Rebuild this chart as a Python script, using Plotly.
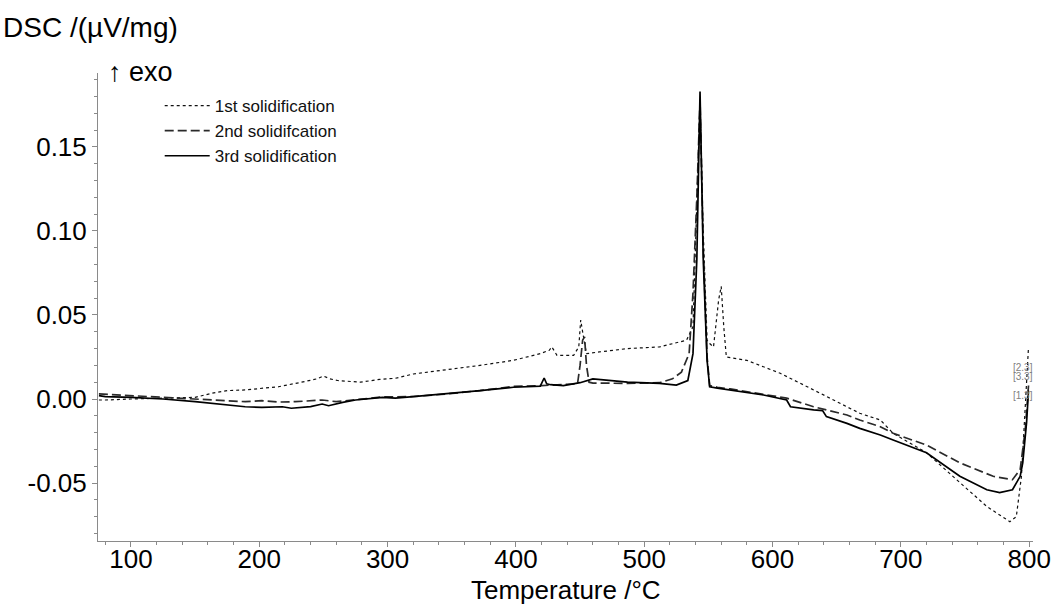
import plotly.graph_objects as go

# 1st solidification (dotted)
t1 = [75, 80, 100, 125, 150, 163, 175, 189, 215, 233, 245, 250, 255, 261, 279, 294, 306, 320, 346, 372,
      398, 419, 426, 428, 432, 445, 449, 450.5, 452, 455, 465, 487, 512, 533, 538, 541, 543.5, 546, 549,
      551, 554, 558, 560, 562, 564, 580, 606, 632, 658, 668, 684, 694, 720, 746, 767, 785, 790, 794, 797, 799.5]
v1 = [-0.0006, -0.0006, 0.0, 0.0005, 0.001, 0.0034, 0.005, 0.0054, 0.0073, 0.010, 0.012, 0.0137, 0.012,
      0.011, 0.010, 0.0117, 0.0123, 0.0149, 0.0173, 0.020, 0.023, 0.027, 0.029, 0.031, 0.026, 0.026, 0.031,
      0.047, 0.040, 0.027, 0.028, 0.030, 0.031, 0.035, 0.043, 0.110, 0.178, 0.100, 0.035, 0.033, 0.031,
      0.059, 0.067, 0.043, 0.025, 0.023, 0.0153, 0.0054, -0.0046, -0.0085, -0.0125, -0.0204, -0.032,
      -0.050, -0.064, -0.073, -0.070, -0.046, -0.008, 0.031]

# 2nd solidification (dashed)
t2 = [75, 100, 125, 150, 170, 189, 202, 215, 228, 240, 249, 260, 275, 296, 320, 346, 372, 398, 420, 435,
      448, 450, 452, 453.5, 455, 457, 460, 487, 512, 522, 529, 535, 538, 541, 543.5, 546, 549, 551, 557,
      567, 593, 611, 632, 658, 668, 684, 694, 720, 746, 772, 787, 793, 797, 799.5]
v2 = [0.003, 0.002, 0.0008, -0.0004, -0.001, -0.0016, -0.001, -0.0018, -0.0016, -0.001, -0.0006, -0.0016,
      -0.0004, 0.0012, 0.0015, 0.003, 0.005, 0.0075, 0.008, 0.0085, 0.009, 0.020, 0.035, 0.037, 0.020,
      0.010, 0.0095, 0.0093, 0.0097, 0.012, 0.016, 0.027, 0.063, 0.120, 0.178, 0.090, 0.025, 0.008, 0.007,
      0.006, 0.003, 0.0005, -0.0046, -0.0095, -0.0125, -0.0165, -0.0204, -0.0274, -0.038, -0.046, -0.048,
      -0.042, -0.018, 0.008]

# 3rd solidification (solid)
t3 = [75, 80, 100, 125, 150, 170, 189, 202, 218, 225, 240, 249, 254, 265, 275, 296, 306, 320, 346, 372,
      398, 419, 422, 424, 427, 437, 450, 460, 487, 512, 525, 534, 538, 541, 543.5, 546, 549, 551, 557, 567,
      593, 611, 614, 632, 639, 642, 658, 668, 684, 694, 720, 746, 767, 777, 787, 793, 795, 798, 799.5]
v3 = [0.002, 0.0014, 0.001, 0.0, -0.0016, -0.003, -0.0046, -0.005, -0.0046, -0.0055, -0.0045, -0.003,
      -0.004, -0.002, -0.0006, 0.001, 0.0005, 0.0014, 0.003, 0.005, 0.007, 0.0077, 0.0125, 0.009, 0.0085,
      0.008, 0.0097, 0.012, 0.010, 0.0093, 0.0083, 0.011, 0.027, 0.083, 0.183, 0.083, 0.023, 0.0073, 0.0065,
      0.0054, 0.0024, -0.0006, -0.0046, -0.0065, -0.0069, -0.0105, -0.0145, -0.0175, -0.0214, -0.0244,
      -0.032, -0.046, -0.054, -0.0557, -0.054, -0.046, -0.038, -0.014, 0.005]

names = ["1st solidification", "2nd solidifcation", "3rd solidification"]
x_ticks = [100, 200, 300, 400, 500, 600, 700, 800]
y_ticks = [-0.05, 0.00, 0.05, 0.10, 0.15]
y_tick_text = ["-0.05", "0.00", "0.05", "0.10", "0.15"]
seg_labels = ["[2.3]", "[3.3]", "[1.3]"]
seg_label_y = [0.0185, 0.0135, 0.002]

font = "Liberation Sans, Arial, sans-serif"

fig = go.Figure()
fig.add_trace(go.Scatter(x=t1, y=v1, mode="lines", name=names[0],
                         line=dict(color="#111111", width=1.2, dash="dot")))
fig.add_trace(go.Scatter(x=t2, y=v2, mode="lines", name=names[1],
                         line=dict(color="#2a2a2a", width=1.7, dash="9px,4px")))
fig.add_trace(go.Scatter(x=t3, y=v3, mode="lines", name=names[2],
                         line=dict(color="#000000", width=1.7)))

for lbl, yy in zip(seg_labels, seg_label_y):
    fig.add_annotation(x=786, y=yy, xref="x", yref="y", text=lbl, showarrow=False,
                       xanchor="left", yanchor="middle",
                       font=dict(family=font, size=10, color="#808080"))

fig.add_annotation(x=0, y=1, xref="paper", yref="paper", text="DSC /(µV/mg)", showarrow=False,
                   xanchor="left", yanchor="middle", xshift=-97, yshift=46,
                   font=dict(family=font, size=28, color="#000000"))
fig.add_annotation(x=0, y=1, xref="paper", yref="paper", text="↑ exo", showarrow=False,
                   xanchor="left", yanchor="middle", xshift=8, yshift=1,
                   font=dict(family=font, size=27, color="#000000"))
fig.add_annotation(x=0.5, y=0, xref="paper", yref="paper", text="Temperature /°C", showarrow=False,
                   xanchor="center", yanchor="middle", yshift=-49,
                   font=dict(family=font, size=26, color="#000000"))

axis_common = dict(showline=True, linecolor="#8a8a8a", linewidth=1, showgrid=False, zeroline=False,
                   ticks="outside", tickcolor="#8a8a8a", ticklen=5, tickwidth=1, automargin=False,
                   tickfont=dict(family=font, size=26, color="#000000"))

fig.update_layout(
    width=1055, height=607,
    margin=dict(l=98, r=22, t=73, b=66),
    paper_bgcolor="white", plot_bgcolor="white",
    font=dict(family=font),
    xaxis=dict(range=[74.3, 803], tickvals=x_ticks, ticklabelstandoff=-10,
               minor=dict(dtick=20, ticks="outside", ticklen=3, tickcolor="#8a8a8a"), **axis_common),
    yaxis=dict(range=[-0.0845, 0.194], tickvals=y_ticks, ticktext=y_tick_text,
               minor=dict(dtick=0.01, tick0=0, ticks="outside", ticklen=3, tickcolor="#8a8a8a"),
               **axis_common),
    legend=dict(x=0.066, y=0.968, xanchor="left", yanchor="top", bgcolor="rgba(0,0,0,0)",
                font=dict(family=font, size=17, color="#111111"), itemwidth=45, tracegroupgap=0),
    showlegend=True,
)

fig.write_html("out.html")
